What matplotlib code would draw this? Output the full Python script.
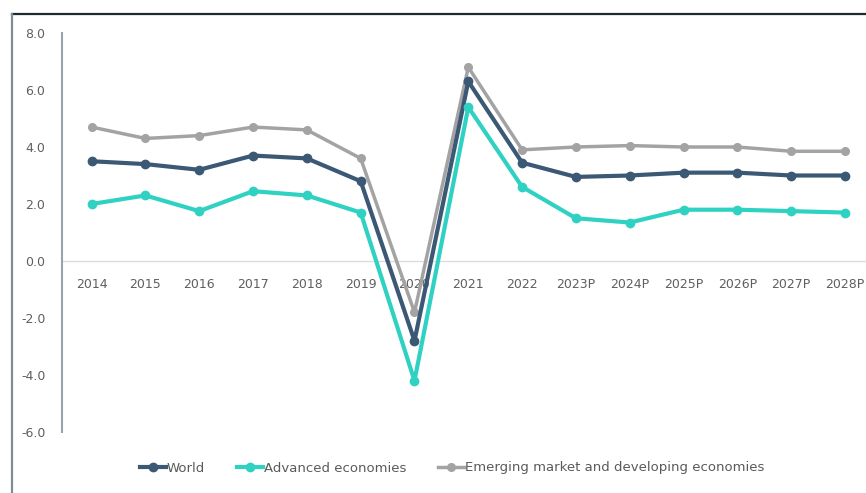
import matplotlib
matplotlib.use("Agg")
import matplotlib.pyplot as plt
from matplotlib.lines import Line2D

years = ["2014", "2015", "2016", "2017", "2018", "2019", "2020", "2021", "2022",
         "2023P", "2024P", "2025P", "2026P", "2027P", "2028P"]
world = [3.5, 3.4, 3.2, 3.7, 3.6, 2.8, -2.8, 6.3, 3.45, 2.95, 3.0, 3.1, 3.1, 3.0, 3.0]
advanced = [2.0, 2.3, 1.75, 2.45, 2.3, 1.7, -4.2, 5.4, 2.6, 1.5, 1.35, 1.8, 1.8, 1.75, 1.7]
emerging = [4.7, 4.3, 4.4, 4.7, 4.6, 3.6, -1.8, 6.8, 3.9, 4.0, 4.05, 4.0, 4.0, 3.85, 3.85]
yticks = [-6, -4, -2, 0, 2, 4, 6, 8]

plt.rcParams['font.family'] = ['DejaVu Sans']

W, H = 866, 493
fig = plt.figure(figsize=(W / 100, H / 100), dpi=100)
fig.patch.set_facecolor("white")

left = 62 / W
bottom = 1 - 432 / H
top = 1 - 33 / H
ax = fig.add_axes([left, bottom, 1 - left, top - bottom])

x = list(range(len(years)))
c_world = "#3b5875"
c_adv = "#2fd2c2"
c_em = "#a3a3a3"

ax.plot(x, emerging, color=c_em, lw=2.5, marker="o", ms=5.5, zorder=3,
        label="Emerging market and developing economies")
ax.plot(x, world, color=c_world, lw=3, marker="o", ms=6, zorder=4, label="World")
ax.plot(x, advanced, color=c_adv, lw=3, marker="o", ms=6, zorder=5,
        label="Advanced economies")

ax.set_ylim(-6, 8)
ax.set_xlim(-0.55, 14.39)
ax.axhline(0, color="#dcdcdc", lw=1, zorder=1)

ax.set_yticks(yticks)
ax.set_yticklabels([f"{v:.1f}" for v in yticks], color="#5f5f5f", fontsize=9)
ax.tick_params(axis="y", length=0, pad=12)
ax.set_xticks([])

for s in ["top", "right", "bottom"]:
    ax.spines[s].set_visible(False)
ax.spines["left"].set_color("#9aa3ad")
ax.spines["left"].set_linewidth(1.5)

for i, lab in enumerate(years):
    ax.annotate(lab, xy=(i, 0), xytext=(0, -17), textcoords="offset points",
                ha="center", va="center", fontsize=9, color="#5f5f5f", zorder=2)

handles, labels = ax.get_legend_handles_labels()
order = [1, 2, 0]
leg = fig.legend([handles[i] for i in order], [labels[i] for i in order],
                 loc="center", bbox_to_anchor=(0.522, 1 - 468 / H), ncol=3,
                 frameon=False, fontsize=9.5, handlelength=2.0, handletextpad=0.05,
                 columnspacing=2.4)
for t in leg.get_texts():
    t.set_color("#5a5a5a")

# outer frame lines
fig.add_artist(Line2D([12 / W, 1], [1 - 14 / H, 1 - 14 / H], color="#1f2a2e", lw=1.6,
                      transform=fig.transFigure))
fig.add_artist(Line2D([12 / W, 12 / W], [1 - 14 / H, 0], color="#7d8c99", lw=1.6,
                      transform=fig.transFigure))

fig.savefig("out.png", dpi=100)
